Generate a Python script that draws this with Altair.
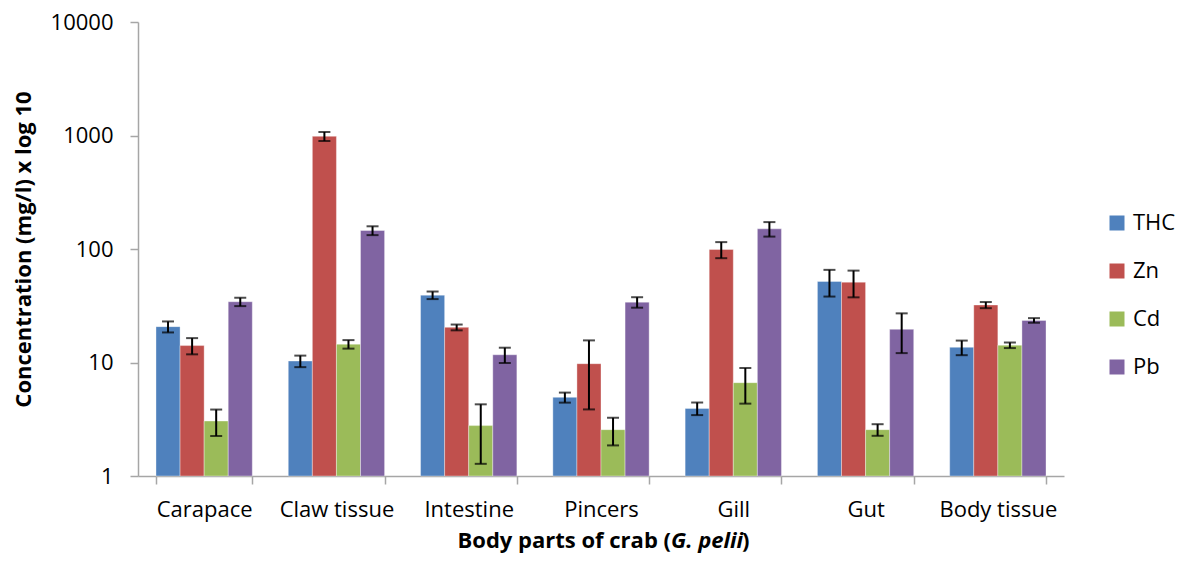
import altair as alt
import pandas as pd

# Body parts sampled and the four measured contaminants
parts = ["Carapace", "Claw tissue", "Intestine", "Pincers", "Gill", "Gut", "Body tissue"]
series = ["THC", "Zn", "Cd", "Pb"]
colors = ["#4F81BD", "#C0504D", "#9BBB59", "#8064A2"]

# Mean concentrations (mg/l) per body part
thc = [20.7, 10.3, 39.2, 4.93, 3.94, 51.8, 13.6]
zn = [14.1, 984, 20.4, 9.76, 99, 51.0, 32.1]
cd = [3.05, 14.5, 2.78, 2.56, 6.64, 2.56, 14.2]
pb = [34.3, 145.5, 11.7, 34.0, 150.6, 19.6, 23.5]

# Error (+/-) for each mean
thc_err = [2.3, 1.2, 3.0, 0.5, 0.5, 13.7, 2.0]
zn_err = [2.3, 90, 1.2, 5.9, 16, 13.5, 2.0]
cd_err = [0.8, 1.25, 1.5, 0.7, 2.3, 0.3, 0.8]
pb_err = [2.9, 13, 1.8, 3.6, 22, 7.5, 1.1]

y_ticks = [1, 10, 100, 1000, 10000]

rows = []
for name, vals, errs in zip(series, [thc, zn, cd, pb], [thc_err, zn_err, cd_err, pb_err]):
    for part, v, e in zip(parts, vals, errs):
        rows.append({"part": part, "metal": name, "value": v,
                     "lo": v - e, "hi": v + e, "base": 1})
df = pd.DataFrame(rows)

FONT = "Open Sans"
FS = 22
W, H = 926, 454

x_enc = alt.X("part:N", sort=parts, title=None,
              scale=alt.Scale(paddingInner=0.272, paddingOuter=0.136),
              axis=alt.Axis(labelAngle=0, labelFontSize=FS, labelColor="black",
                            labelFont=FONT, labelPadding=15, tickBand="extent",
                            tickSize=8, tickColor="#A6A6A6", tickWidth=1.5,
                            domainColor="#A6A6A6", domainWidth=1.5))
xo_enc = alt.XOffset("metal:N", sort=series, scale=alt.Scale(paddingInner=0, paddingOuter=0))
y_scale = alt.Scale(type="log", domain=[1, 10000])

bars = alt.Chart(df).mark_bar(stroke="white", strokeWidth=0.6, strokeOpacity=0.6).encode(
    x=x_enc,
    xOffset=xo_enc,
    y=alt.Y("value:Q", scale=y_scale,
            axis=alt.Axis(values=y_ticks, format="d", labelFontSize=FS, labelColor="black",
                          labelFont=FONT, labelPadding=17, tickSize=8, tickColor="#A6A6A6",
                          tickWidth=1.5, domainColor="#A6A6A6", domainWidth=1.5, grid=False,
                          title="Concentration (mg/l) x log 10", titleFont=FONT,
                          titleFontSize=FS, titleFontWeight="bold", titleColor="black",
                          titleAngle=270, titleBaseline="middle", titleAlign="center",
                          titleX=-115, titleY=H / 2)),
    y2=alt.Y2("base:Q"),
    color=alt.Color("metal:N", sort=series,
                    scale=alt.Scale(domain=series, range=colors),
                    legend=alt.Legend(title=None, orient="none", legendX=968, legendY=190,
                                      symbolType="square", symbolSize=225,
                                      symbolStrokeWidth=0, labelFontSize=FS,
                                      labelFont=FONT, labelColor="black",
                                      labelOffset=5, rowPadding=26)),
)

whisk = alt.Chart(df).mark_rule(color="black", strokeWidth=2).encode(
    x=alt.X("part:N", sort=parts),
    xOffset=xo_enc,
    y=alt.Y("lo:Q", scale=y_scale),
    y2="hi:Q",
)

cap_lo = alt.Chart(df).mark_tick(color="black", thickness=2, size=12).encode(
    x=alt.X("part:N", sort=parts),
    xOffset=xo_enc,
    y=alt.Y("lo:Q", scale=y_scale),
)
cap_hi = alt.Chart(df).mark_tick(color="black", thickness=2, size=12).encode(
    x=alt.X("part:N", sort=parts),
    xOffset=xo_enc,
    y=alt.Y("hi:Q", scale=y_scale),
)

# x-axis title with the italic species name
title_df = pd.DataFrame({"t": [0]})
t_base = alt.Chart(title_df)
t1 = t_base.mark_text(text="Body parts of crab (", font=FONT, fontSize=FS, fontWeight="bold",
                      align="right", baseline="alphabetic", color="black").encode(
    x=alt.value(533), y=alt.value(526))
t2 = t_base.mark_text(text="G. pelii", font=FONT, fontSize=FS, fontWeight="bold",
                      fontStyle="italic", align="left", baseline="alphabetic",
                      color="black").encode(x=alt.value(533), y=alt.value(526))
t3 = t_base.mark_text(text=")", font=FONT, fontSize=FS, fontWeight="bold",
                      align="left", baseline="alphabetic", color="black").encode(
    x=alt.value(604), y=alt.value(526))

chart = alt.layer(bars, whisk, cap_lo, cap_hi, t1, t2, t3).properties(
    width=W, height=H,
    autosize=alt.AutoSizeParams(type="none"),
    padding={"left": 138, "top": 22, "right": 113, "bottom": 89},
    background="white",
).configure_view(stroke=None)

chart.save("out.html", embed_options={"renderer": "svg", "actions": False})
